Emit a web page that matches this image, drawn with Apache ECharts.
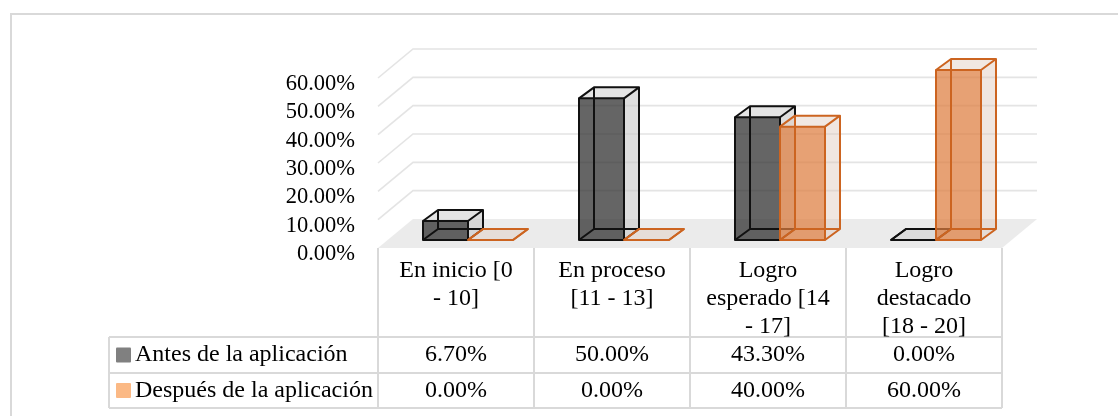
<!DOCTYPE html>
<html>
<head>
<meta charset="utf-8">
<style>
  html, body { margin: 0; padding: 0; background: #ffffff; }
  #chart { width: 1118px; height: 416px; }
</style>
<script src="https://cdn.jsdelivr.net/npm/echarts@6.0.0/dist/echarts.min.js"></script>
</head>
<body>
<div id="chart"></div>
<script>
// ---- data ----
const categories = ['En inicio [0\n- 10]', 'En proceso\n[11 - 13]', 'Logro\nesperado [14\n- 17]', 'Logro\ndestacado\n[18 - 20]'];
const seriesNames = ['Antes de la aplicación', 'Después de la aplicación'];
const antes = [6.7, 50.0, 43.3, 0.0];
const despues = [0.0, 0.0, 40.0, 60.0];
const yTicks = [0, 10, 20, 30, 40, 50, 60];

// ---- look ----
const FONT = 'Liberation Serif';
const AXIS_FS = 22.5;
const TABLE_FS = 24;
const FLOOR_DX = 35, FLOOR_DY = -29;      // depth of the 3D floor / walls
const FRONT_DX = 9, FRONT_DY = -8;        // bar front face within the depth
const BAR_DX = 15, BAR_DY = -11;          // bar thickness in depth
const BAR_W = 45;                         // bar width (px) on the front plane
const BAR_LEFT = -42;                     // first bar start relative to category centre
const GRID_COLOR = '#e4e4e4';
const TABLE_LINE = '#d9d9d9';
const ROW_Y = [337, 373, 408];            // table row separators
const TABLE_LEFT = 109;
const TICK_GAP = 23, TICK_DROP = 6;       // value-axis label placement

const styles = [
  { front: 'rgba(50,50,50,0.75)', side: 'rgba(200,200,200,0.6)', top: 'rgba(205,205,205,0.55)', edge: '#111111', key: '#808080' },
  { front: 'rgba(222,125,62,0.72)', side: 'rgba(222,200,186,0.45)', top: 'rgba(225,205,190,0.45)', edge: '#cc6420', key: '#fbb985' }
];

const chart = echarts.init(document.getElementById('chart'));

function pt(p, dx, dy) { return [p[0] + dx, p[1] + dy]; }
function pct(v) { return v.toFixed(2) + '%'; }

// floor, walls' gridlines, value labels and the data table underneath
function renderFrame(params, api) {
  const cs = params.coordSys;
  const left = cs.x, right = cs.x + cs.width;
  const y0 = api.coord([0, 0])[1];
  const children = [];
  // floor
  children.push({
    type: 'polygon',
    shape: { points: [[left, y0], [right, y0], [right + FLOOR_DX, y0 + FLOOR_DY], [left + FLOOR_DX, y0 + FLOOR_DY]] },
    style: { fill: '#ebebeb', stroke: null }
  });
  // gridlines on left wall and back wall, with value labels
  yTicks.forEach(function (t) {
    const y = api.coord([0, t])[1];
    if (t !== 0) {
      children.push({
        type: 'polyline',
        shape: { points: [[left, y], [left + FLOOR_DX, y + FLOOR_DY], [right + FLOOR_DX, y + FLOOR_DY]] },
        style: { stroke: GRID_COLOR, lineWidth: 1.6, fill: null }
      });
    }
    children.push({
      type: 'text',
      style: { text: pct(t), x: left - TICK_GAP, y: y + TICK_DROP, align: 'right', verticalAlign: 'middle',
               fontFamily: FONT, fontSize: AXIS_FS, fill: '#000' }
    });
  });
  // table grid
  const band = api.size([1, 0])[0];
  const colX = [];
  categories.forEach(function (c, i) { colX.push(api.coord([i, 0])[0] - band / 2); });
  colX.push(api.coord([categories.length - 1, 0])[0] + band / 2);
  const bottom = ROW_Y[ROW_Y.length - 1];
  colX.forEach(function (x) {
    children.push({ type: 'line', shape: { x1: x, y1: y0, x2: x, y2: bottom }, style: { stroke: TABLE_LINE, lineWidth: 2 } });
  });
  ROW_Y.forEach(function (y) {
    children.push({ type: 'line', shape: { x1: TABLE_LEFT, y1: y, x2: colX[colX.length - 1], y2: y }, style: { stroke: TABLE_LINE, lineWidth: 2 } });
  });
  children.push({ type: 'line', shape: { x1: TABLE_LEFT, y1: ROW_Y[0], x2: TABLE_LEFT, y2: bottom }, style: { stroke: TABLE_LINE, lineWidth: 2 } });
  // header labels
  categories.forEach(function (c, i) {
    children.push({
      type: 'text',
      style: { text: c, x: api.coord([i, 0])[0], y: y0 + 9, align: 'center', verticalAlign: 'top',
               fontFamily: FONT, fontSize: TABLE_FS, lineHeight: 28, fill: '#000' }
    });
  });
  // series rows
  [antes, despues].forEach(function (vals, r) {
    const yc = (ROW_Y[r] + ROW_Y[r + 1]) / 2;
    children.push({ type: 'rect', shape: { x: TABLE_LEFT + 7, y: yc - 7.5, width: 15, height: 15, r: 1 }, style: { fill: styles[r].key } });
    children.push({
      type: 'text',
      style: { text: seriesNames[r], x: TABLE_LEFT + 26, y: yc, align: 'left', verticalAlign: 'middle',
               fontFamily: FONT, fontSize: TABLE_FS, fill: '#000' }
    });
    vals.forEach(function (v, i) {
      children.push({
        type: 'text',
        style: { text: pct(v), x: api.coord([i, 0])[0], y: yc, align: 'center', verticalAlign: 'middle',
                 fontFamily: FONT, fontSize: TABLE_FS, fill: '#000' }
      });
    });
  });
  return { type: 'group', children: children };
}

// a translucent 3D box per value
function boxRenderer(k) {
  const st = styles[k];
  return function (params, api) {
    const i = api.value(0), v = api.value(1);
    const cx = api.coord([i, 0])[0];
    const yb = api.coord([i, 0])[1];
    const yt = api.coord([i, v])[1];
    const x0 = cx + BAR_LEFT + k * BAR_W, x1 = x0 + BAR_W;
    const fLB = [x0 + FRONT_DX, yb + FRONT_DY], fRB = [x1 + FRONT_DX, yb + FRONT_DY];
    const fRT = [x1 + FRONT_DX, yt + FRONT_DY], fLT = [x0 + FRONT_DX, yt + FRONT_DY];
    const bLB = pt(fLB, BAR_DX, BAR_DY), bRB = pt(fRB, BAR_DX, BAR_DY);
    const bRT = pt(fRT, BAR_DX, BAR_DY), bLT = pt(fLT, BAR_DX, BAR_DY);
    const edge = { stroke: st.edge, lineWidth: 2, fill: null, lineJoin: 'round' };
    const children = [
      { type: 'polygon', shape: { points: [fRB, bRB, bRT, fRT] }, style: { fill: st.side } },
      { type: 'polygon', shape: { points: [fLT, fRT, bRT, bLT] }, style: { fill: st.top } },
      { type: 'polygon', shape: { points: [fLB, fRB, fRT, fLT] }, style: { fill: st.front } },
      // hidden edges seen through the glass
      { type: 'polyline', shape: { points: [fLB, bLB, bRB] }, style: edge },
      { type: 'line', shape: { x1: bLB[0], y1: bLB[1], x2: bLT[0], y2: bLT[1] }, style: edge },
      // visible outline
      { type: 'polygon', shape: { points: [fLB, fRB, fRT, fLT] }, style: edge },
      { type: 'polyline', shape: { points: [fLT, bLT, bRT, fRT] }, style: edge },
      { type: 'polyline', shape: { points: [fRB, bRB, bRT] }, style: edge }
    ];
    return { type: 'group', children: children };
  };
}

chart.setOption({
  animation: false,
  backgroundColor: '#ffffff',
  graphic: [{
    type: 'rect', silent: true, z: -10,
    shape: { x: 11, y: 14, width: 1130, height: 430 },
    style: { fill: null, stroke: '#d9d9d9', lineWidth: 2 }
  }],
  grid: { left: 378, right: 116, top: 78, bottom: 168 },
  xAxis: {
    type: 'category', data: categories,
    axisLine: { show: false }, axisTick: { show: false }, axisLabel: { show: false }, splitLine: { show: false }
  },
  yAxis: {
    type: 'value', min: 0, max: 60, interval: 10,
    axisLine: { show: false }, axisTick: { show: false }, splitLine: { show: false }, axisLabel: { show: false }
  },
  series: [
    { type: 'custom', name: 'frame', data: [[0, 0]], renderItem: renderFrame, z: 1, silent: true, clip: false },
    { type: 'custom', name: seriesNames[0], data: antes.map(function (v, i) { return [i, v]; }), renderItem: boxRenderer(0), z: 2, clip: false },
    { type: 'custom', name: seriesNames[1], data: despues.map(function (v, i) { return [i, v]; }), renderItem: boxRenderer(1), z: 3, clip: false }
  ]
});
</script>
</body>
</html>
